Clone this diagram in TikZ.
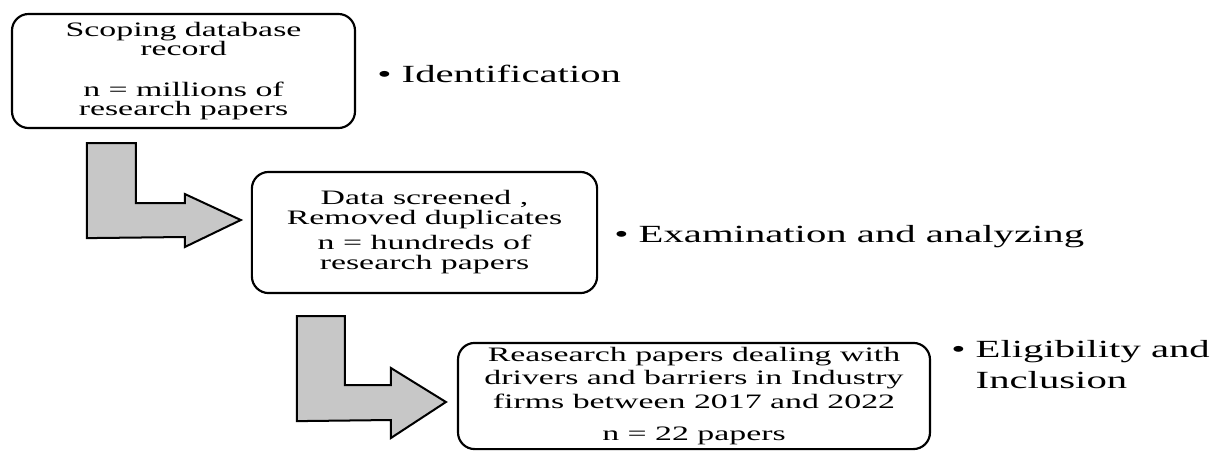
\documentclass[tikz,border=0pt]{standalone}
\usepackage{fontspec}
\setmainfont{Liberation Serif}
\newfontfamily\widefont{Liberation Serif}[FakeStretch=1.65]
\usepackage{tikz}
\usetikzlibrary{positioning,calc}

\newcommand{\boxfont}[1]{\widefont\fontsize{13.3}{#1}\selectfont}

\begin{document}
\begin{tikzpicture}[x=0.0228cm,y=-0.0228cm,
    stepbox/.style={rectangle,draw,line width=1.4pt,rounded corners=0.38cm,align=center,inner sep=0pt},
    blockarrow/.style={draw,line width=1.3pt,fill=black!22,line join=miter},
    phase/.style={anchor=base west,align=left,inner sep=0pt,font=\widefont\fontsize{16}{19.5}\selectfont}]
\useasboundingbox (0,0) rectangle (1212,451);

\node (box1) at (183.5,71) [stepbox,minimum width=7.82cm,minimum height=2.6cm,font=\boxfont{12.3}]
  {Scoping database\\record\\[14pt]n = millions of\\research papers};
\node (box2) at (424.5,232.5) [stepbox,minimum width=7.87cm,minimum height=2.76cm,font=\boxfont{13}]
  {Data screened ,\\Removed duplicates\\[3.2pt]n = hundreds of\\research papers};
\node (box3) at (694,396) [stepbox,minimum width=10.76cm,minimum height=2.42cm,font=\boxfont{15.2}]
  {Reasearch papers dealing with\\drivers and barriers in Industry\\firms between 2017 and 2022\\[6pt]n = 22 papers};

\node (ph1) at (377,82) [phase] {•\ Identification};
\node (ph2) at (614,242) [phase] {•\ Examination and analyzing};
\node (ph3) at (951,388) [phase] {•\ Eligibility and\\\hphantom{•\ }Inclusion};

\coordinate (a1top) at ($(box1.south west)+(76,14)$);
\coordinate (a1tip) at ($(box2.west)+(-10,-12.5)$);
\draw[blockarrow] (a1top) -- ++(49,0) |- ($(a1tip)+(-56,-17)$) -- ++(0,-9) -- (a1tip)
  -- ++(-56,27) -- ++(0,-10) -- ($(a1top)+(0,95)$) -- cycle;

\coordinate (a2top) at ($(box2.south west)+(46,22)$);
\coordinate (a2tip) at ($(box3.west)+(-11,6)$);
\draw[blockarrow] (a2top) -- ++(48,0) |- ($(a2tip)+(-55,-17)$) -- ++(0,-17) -- (a2tip)
  -- ++(-55,36) -- ++(0,-18) -- ($(a2top)+(0,105)$) -- cycle;
\end{tikzpicture}
\end{document}
